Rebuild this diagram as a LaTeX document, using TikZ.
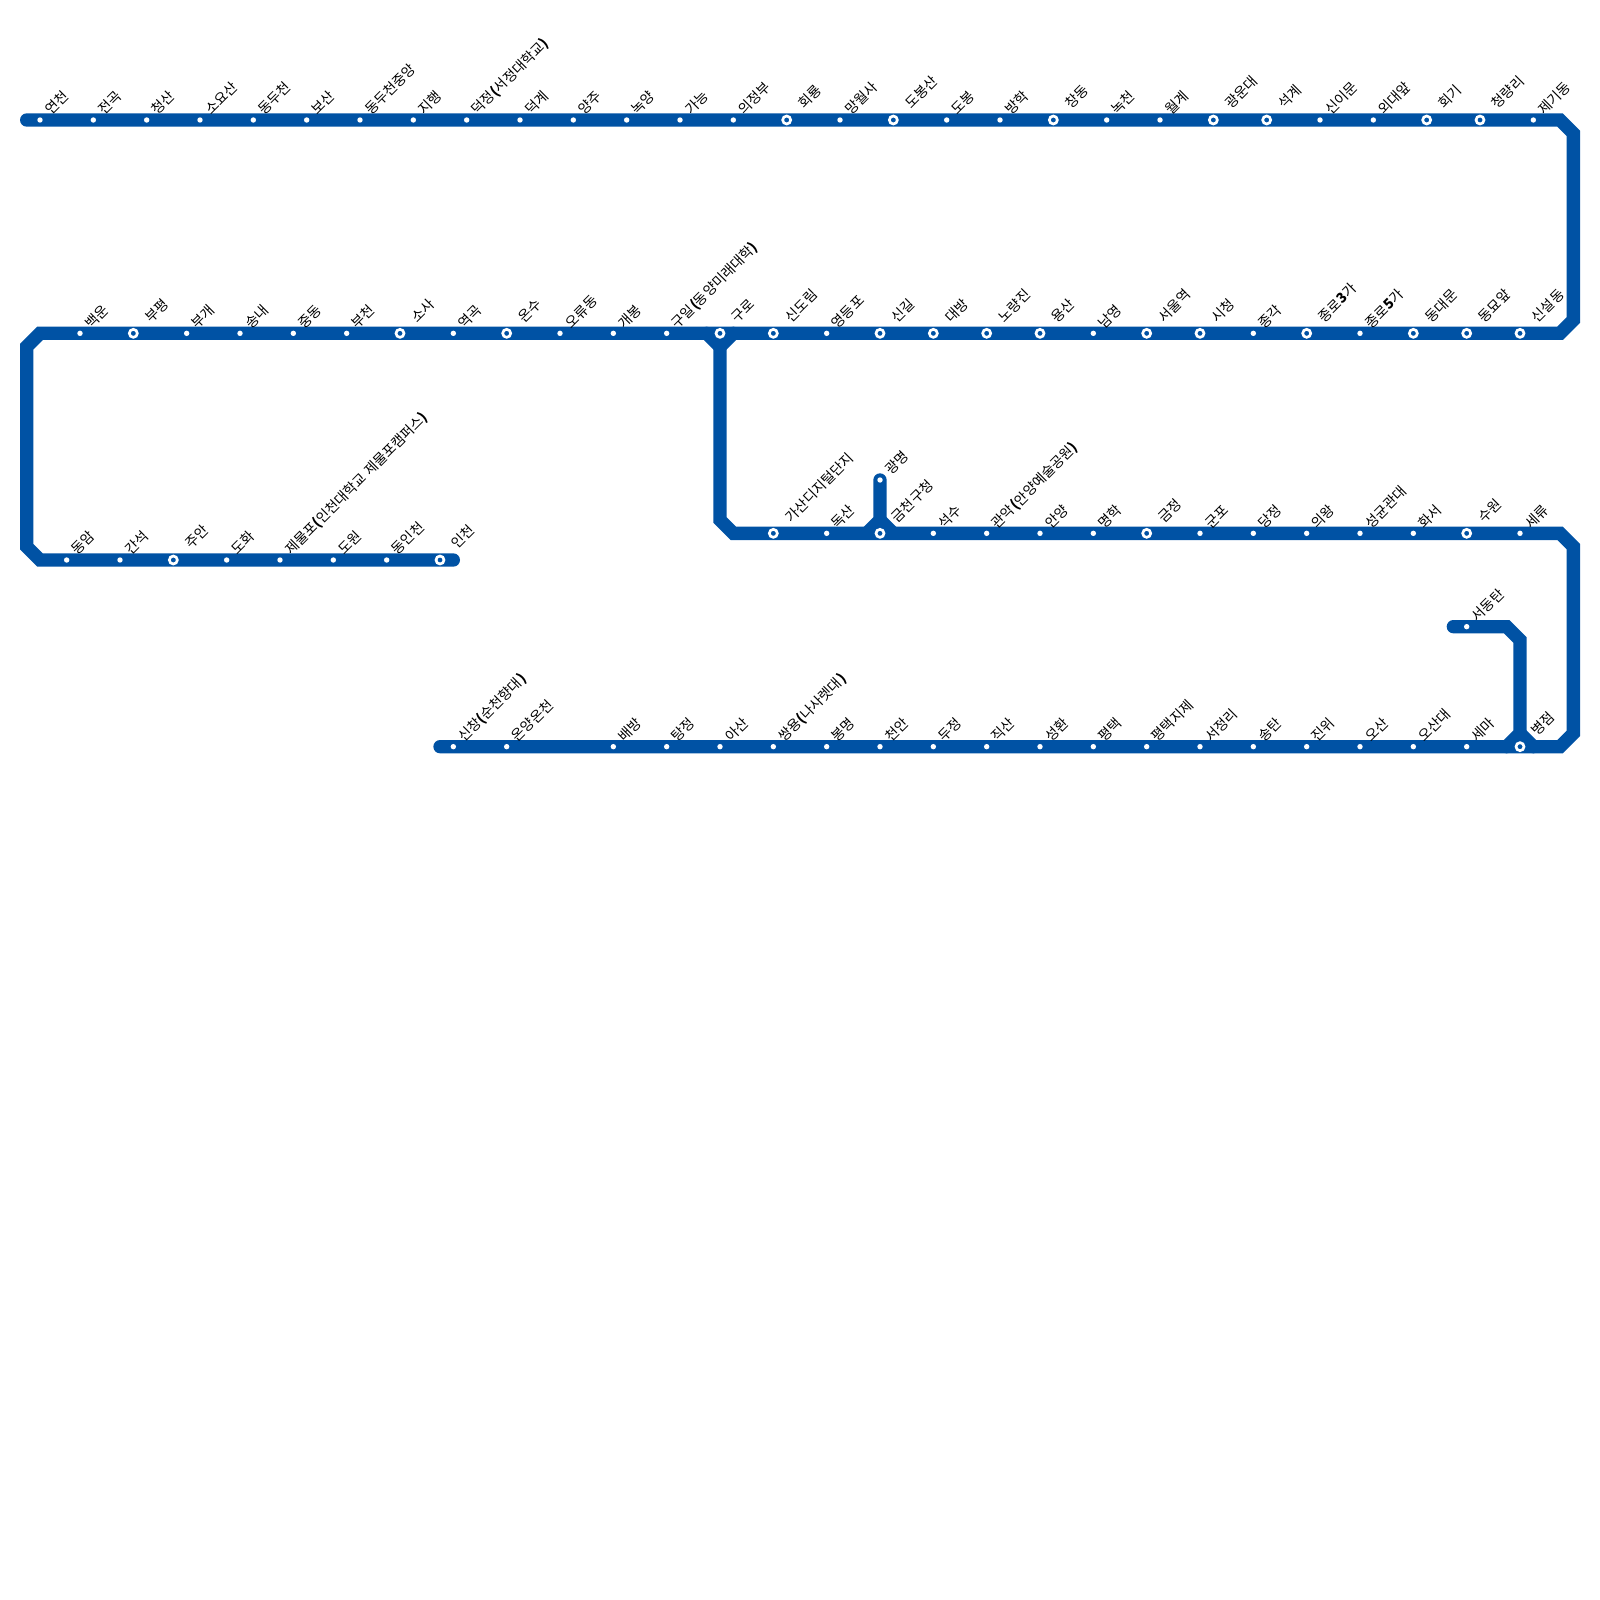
\documentclass[tikz,border=0pt]{standalone}
\usepackage{fontspec}
\usepackage{xcolor}
\usepackage{tikz}
\newfontfamily\cjk{Noto Sans CJK KR}
\definecolor{lineblue}{HTML}{0052A4}
\tikzset{
  track/.style={draw=lineblue,line width=13.33pt,line cap=round,line join=miter},
  stop/.style={circle,fill=white,inner sep=0pt,outer sep=0pt,minimum size=5.4pt},
  xfer/.style={circle,draw=white,fill=lineblue,line width=2.67pt,inner sep=0pt,outer sep=0pt,minimum size=8pt},
  turned/.style={anchor=base west,rotate=45,inner sep=0pt,font=\cjk\fontsize{14}{14}\selectfont},
  stoplabel/.style={xshift=11pt,yshift=4pt,turned},
  xferlabel/.style={xshift=17.7pt,yshift=10pt,turned}
}
\begin{document}
\begin{tikzpicture}[x=1pt,y=-1pt]
      \useasboundingbox (0,0) rectangle (1600,1600);
      % Corners
      \coordinate (c1) at (26.67,120);
      \coordinate (c2) at (1560,120);
      \coordinate (c3) at (1573.33,133.33);
      \coordinate (c4) at (1573.33,320);
      \coordinate (c5) at (1560,333.33);
      \coordinate (c6) at (40,333.33);
      \coordinate (c7) at (26.67,346.67);
      \coordinate (c8) at (26.67,546.67);
      \coordinate (c9) at (40,560);
      \coordinate (c10) at (453.33,560);
      \coordinate (d1) at (706.67,333.33);
      \coordinate (d2) at (720,346.67);
      \coordinate (d3) at (733.33,333.33);
      \coordinate (d4) at (720,520);
      \coordinate (d5) at (733.33,533.33);
      \coordinate (d6) at (1560,533.33);
      \coordinate (d7) at (1573.33,546.67);
      \coordinate (d8) at (1573.33,733.33);
      \coordinate (d9) at (1560,746.67);
      \coordinate (d10) at (440,746.67);
      \coordinate (e1) at (880,480);
      \coordinate (e2) at (880,520);
      \coordinate (e3) at (866.67,533.33);
      \coordinate (e4) at (893.33,533.33);
      \coordinate (f1) at (1453.33,626.67);
      \coordinate (f2) at (1506.67,626.67);
      \coordinate (f3) at (1520,640);
      \coordinate (f4) at (1520,733.33);
      \coordinate (f5) at (1506.67,746.67);
      \coordinate (f6) at (1533.33,746.67);
      % Lines
      \draw[track] (c1) -- (c2) -- (c3) -- (c4) -- (c5) -- (c6) -- (c7) -- (c8) -- (c9) -- (c10);
      \draw[track] (d1) -- (d2) -- (d3);
      \draw[track] (d2) -- (d4) -- (d5) -- (d6) -- (d7) -- (d8) -- (d9) -- (d10);
      \draw[track] (e1) -- (e2) -- (e3);
      \draw[track] (e2) -- (e4);
      \draw[track] (f1) -- (f2) -- (f3) -- (f4) -- (f5);
      \draw[track] (f4) -- (f6);
      % First row
      \node[stop] (A1) at (40,120) {};
      \node[stop] (A2) at (93.33,120) {};
      \node[stop] (A3) at (146.67,120) {};
      \node[stop] (A4) at (200,120) {};
      \node[stop] (A5) at (253.33,120) {};
      \node[stop] (A6) at (306.67,120) {};
      \node[stop] (A7) at (360,120) {};
      \node[stop] (A8) at (413.33,120) {};
      \node[stop] (A9) at (466.67,120) {};
      \node[stop] (A10) at (520,120) {};
      \node[stop] (A11) at (573.33,120) {};
      \node[stop] (A12) at (626.67,120) {};
      \node[stop] (A13) at (680,120) {};
      \node[stop] (A14) at (733.33,120) {};
      \node[xfer] (A15) at (786.67,120) {};
      \node[stop] (A16) at (840,120) {};
      \node[xfer] (A17) at (893.33,120) {};
      \node[stop] (A18) at (946.67,120) {};
      \node[stop] (A19) at (1000,120) {};
      \node[xfer] (A20) at (1053.33,120) {};
      \node[stop] (A21) at (1106.67,120) {};
      \node[stop] (A22) at (1160,120) {};
      \node[xfer] (A23) at (1213.33,120) {};
      \node[xfer] (A24) at (1266.67,120) {};
      \node[stop] (A25) at (1320,120) {};
      \node[stop] (A26) at (1373.33,120) {};
      \node[xfer] (A27) at (1426.67,120) {};
      \node[xfer] (A28) at (1480,120) {};
      \node[stop] (A29) at (1533.33,120) {};
      \node[stoplabel] (TA1) at (A1) {연천};
      \node[stoplabel] (TA2) at (A2) {전곡};
      \node[stoplabel] (TA3) at (A3) {청산};
      \node[stoplabel] (TA4) at (A4) {소요산};
      \node[stoplabel] (TA5) at (A5) {동두천};
      \node[stoplabel] (TA6) at (A6) {보산};
      \node[stoplabel] (TA7) at (A7) {동두천중앙};
      \node[stoplabel] (TA8) at (A8) {지행};
      \node[stoplabel] (TA9) at (A9) {덕정\textbf{(}서정대학교\textbf{)}};
      \node[stoplabel] (TA10) at (A10) {덕계};
      \node[stoplabel] (TA11) at (A11) {양주};
      \node[stoplabel] (TA12) at (A12) {녹양};
      \node[stoplabel] (TA13) at (A13) {가능};
      \node[stoplabel] (TA14) at (A14) {의정부};
      \node[xferlabel] (TA15) at (A15) {회룡};
      \node[stoplabel] (TA16) at (A16) {망월사};
      \node[xferlabel] (TA17) at (A17) {도봉산};
      \node[stoplabel] (TA18) at (A18) {도봉};
      \node[stoplabel] (TA19) at (A19) {방학};
      \node[xferlabel] (TA20) at (A20) {창동};
      \node[stoplabel] (TA21) at (A21) {녹천};
      \node[stoplabel] (TA22) at (A22) {월계};
      \node[xferlabel] (TA23) at (A23) {광운대};
      \node[xferlabel] (TA24) at (A24) {석계};
      \node[stoplabel] (TA25) at (A25) {신이문};
      \node[stoplabel] (TA26) at (A26) {외대앞};
      \node[xferlabel] (TA27) at (A27) {회기};
      \node[xferlabel] (TA28) at (A28) {청량리};
      \node[stoplabel] (TA29) at (A29) {제기동};
      % Second row
      \node[stop] (B1) at (80,333.33) {};
      \node[xfer] (B2) at (133.33,333.33) {};
      \node[stop] (B3) at (186.67,333.33) {};
      \node[stop] (B4) at (240,333.33) {};
      \node[stop] (B5) at (293.33,333.33) {};
      \node[stop] (B6) at (346.67,333.33) {};
      \node[xfer] (B7) at (400,333.33) {};
      \node[stop] (B8) at (453.33,333.33) {};
      \node[xfer] (B9) at (506.67,333.33) {};
      \node[stop] (B10) at (560,333.33) {};
      \node[stop] (B11) at (613.33,333.33) {};
      \node[stop] (B12) at (666.67,333.33) {};
      \node[xfer] (B13) at (720,333.33) {};
      \node[xfer] (B14) at (773.33,333.33) {};
      \node[stop] (B15) at (826.67,333.33) {};
      \node[xfer] (B16) at (880,333.33) {};
      \node[xfer] (B17) at (933.33,333.33) {};
      \node[xfer] (B18) at (986.67,333.33) {};
      \node[xfer] (B19) at (1040,333.33) {};
      \node[stop] (B20) at (1093.33,333.33) {};
      \node[xfer] (B21) at (1146.67,333.33) {};
      \node[xfer] (B22) at (1200,333.33) {};
      \node[stop] (B23) at (1253.33,333.33) {};
      \node[xfer] (B24) at (1306.67,333.33) {};
      \node[stop] (B25) at (1360,333.33) {};
      \node[xfer] (B26) at (1413.33,333.33) {};
      \node[xfer] (B27) at (1466.67,333.33) {};
      \node[xfer] (B28) at (1520,333.33) {};
      \node[stoplabel] (TB1) at (B1) {백운};
      \node[xferlabel] (TB2) at (B2) {부평};
      \node[stoplabel] (TB3) at (B3) {부개};
      \node[stoplabel] (TB4) at (B4) {송내};
      \node[stoplabel] (TB5) at (B5) {중동};
      \node[stoplabel] (TB6) at (B6) {부천};
      \node[xferlabel] (TB7) at (B7) {소사};
      \node[stoplabel] (TB8) at (B8) {역곡};
      \node[xferlabel] (TB9) at (B9) {온수};
      \node[stoplabel] (TB10) at (B10) {오류동};
      \node[stoplabel] (TB11) at (B11) {개봉};
      \node[stoplabel] (TB12) at (B12) {구일\textbf{(}동양미래대학\textbf{)}};
      \node[xferlabel] (TB13) at (B13) {구로};
      \node[xferlabel] (TB14) at (B14) {신도림};
      \node[stoplabel] (TB15) at (B15) {영등포};
      \node[xferlabel] (TB16) at (B16) {신길};
      \node[xferlabel] (TB17) at (B17) {대방};
      \node[xferlabel] (TB18) at (B18) {노량진};
      \node[xferlabel] (TB19) at (B19) {용산};
      \node[stoplabel] (TB20) at (B20) {남영};
      \node[xferlabel] (TB21) at (B21) {서울역};
      \node[xferlabel] (TB22) at (B22) {시청};
      \node[stoplabel] (TB23) at (B23) {종각};
      \node[xferlabel] (TB24) at (B24) {종로\textbf{3}가};
      \node[stoplabel] (TB25) at (B25) {종로\textbf{5}가};
      \node[xferlabel] (TB26) at (B26) {동대문};
      \node[xferlabel] (TB27) at (B27) {동묘앞};
      \node[xferlabel] (TB28) at (B28) {신설동};
      % Third row
      \node[stop] (C1) at (66.67,560) {};
      \node[stop] (C2) at (120,560) {};
      \node[xfer] (C3) at (173.33,560) {};
      \node[stop] (C4) at (226.67,560) {};
      \node[stop] (C5) at (280,560) {};
      \node[stop] (C6) at (333.33,560) {};
      \node[stop] (C7) at (386.67,560) {};
      \node[xfer] (C8) at (440,560) {};
      \node[stoplabel] (TC1) at (C1) {동암};
      \node[stoplabel] (TC2) at (C2) {간석};
      \node[xferlabel] (TC3) at (C3) {주안};
      \node[stoplabel] (TC4) at (C4) {도화};
      \node[stoplabel] (TC5) at (C5) {제물포\textbf{(}인천대학교 제물포캠퍼스\textbf{)}};
      \node[stoplabel] (TC6) at (C6) {도원};
      \node[stoplabel] (TC7) at (C7) {동인천};
      \node[xferlabel] (TC8) at (C8) {인천};
      % Fourth row
      \node[xfer] (D1) at (773.33,533.33) {};
      \node[stop] (D2) at (826.67,533.33) {};
      \node[xfer] (D3) at (880,533.33) {};
      \node[stop] (D4) at (933.33,533.33) {};
      \node[stop] (D5) at (986.67,533.33) {};
      \node[stop] (D6) at (1040,533.33) {};
      \node[stop] (D7) at (1093.33,533.33) {};
      \node[xfer] (D8) at (1146.67,533.33) {};
      \node[stop] (D9) at (1200,533.33) {};
      \node[stop] (D10) at (1253.33,533.33) {};
      \node[stop] (D11) at (1306.67,533.33) {};
      \node[stop] (D12) at (1360,533.33) {};
      \node[stop] (D13) at (1413.33,533.33) {};
      \node[xfer] (D14) at (1466.67,533.33) {};
      \node[stop] (D15) at (1520,533.33) {};
      \node[stop] (D16) at (880,480) {};
      \node[xferlabel] (TD1) at (D1) {가산디지털단지};
      \node[stoplabel] (TD2) at (D2) {독산};
      \node[xferlabel] (TD3) at (D3) {금천구청};
      \node[stoplabel] (TD4) at (D4) {석수};
      \node[stoplabel] (TD5) at (D5) {관악\textbf{(}안양예술공원\textbf{)}};
      \node[stoplabel] (TD6) at (D6) {안양};
      \node[stoplabel] (TD7) at (D7) {명학};
      \node[xferlabel] (TD8) at (D8) {금정};
      \node[stoplabel] (TD9) at (D9) {군포};
      \node[stoplabel] (TD10) at (D10) {당정};
      \node[stoplabel] (TD11) at (D11) {의왕};
      \node[stoplabel] (TD12) at (D12) {성균관대};
      \node[stoplabel] (TD13) at (D13) {화서};
      \node[xferlabel] (TD14) at (D14) {수원};
      \node[stoplabel] (TD15) at (D15) {세류};
      \node[stoplabel] (TD16) at (D16) {광명};
      % Fifth row
      \node[stop] (E1) at (453.33,746.67) {};
      \node[stop] (E2) at (506.67,746.67) {};
      \node[stop] (E3) at (613.33,746.67) {};
      \node[stop] (E4) at (666.67,746.67) {};
      \node[stop] (E5) at (720,746.67) {};
      \node[stop] (E6) at (773.33,746.67) {};
      \node[stop] (E7) at (826.67,746.67) {};
      \node[stop] (E8) at (880,746.67) {};
      \node[stop] (E9) at (933.33,746.67) {};
      \node[stop] (E10) at (986.67,746.67) {};
      \node[stop] (E11) at (1040,746.67) {};
      \node[stop] (E12) at (1093.33,746.67) {};
      \node[stop] (E13) at (1146.67,746.67) {};
      \node[stop] (E14) at (1200,746.67) {};
      \node[stop] (E15) at (1253.33,746.67) {};
      \node[stop] (E16) at (1306.67,746.67) {};
      \node[stop] (E17) at (1360,746.67) {};
      \node[stop] (E18) at (1413.33,746.67) {};
      \node[stop] (E19) at (1466.67,746.67) {};
      \node[xfer] (E20) at (1520,746.67) {};
      \node[stop] (E21) at (1466.67,626.67) {};
      \node[stoplabel] (TE1) at (E1) {신창\textbf{(}순천향대\textbf{)}};
      \node[stoplabel] (TE2) at (E2) {온양온천};
      \node[stoplabel] (TE3) at (E3) {배방};
      \node[stoplabel] (TE4) at (E4) {탕정};
      \node[stoplabel] (TE5) at (E5) {아산};
      \node[stoplabel] (TE6) at (E6) {쌍용\textbf{(}나사렛대\textbf{)}};
      \node[stoplabel] (TE7) at (E7) {봉명};
      \node[stoplabel] (TE8) at (E8) {천안};
      \node[stoplabel] (TE9) at (E9) {두정};
      \node[stoplabel] (TE10) at (E10) {직산};
      \node[stoplabel] (TE11) at (E11) {성환};
      \node[stoplabel] (TE12) at (E12) {평택};
      \node[stoplabel] (TE13) at (E13) {평택지제};
      \node[stoplabel] (TE14) at (E14) {서정리};
      \node[stoplabel] (TE15) at (E15) {송탄};
      \node[stoplabel] (TE16) at (E16) {진위};
      \node[stoplabel] (TE17) at (E17) {오산};
      \node[stoplabel] (TE18) at (E18) {오산대};
      \node[stoplabel] (TE19) at (E19) {세마};
      \node[xferlabel] (TE20) at (E20) {병점};
      \node[stoplabel] (TE21) at (E21) {서동탄};
\end{tikzpicture}
\end{document}
